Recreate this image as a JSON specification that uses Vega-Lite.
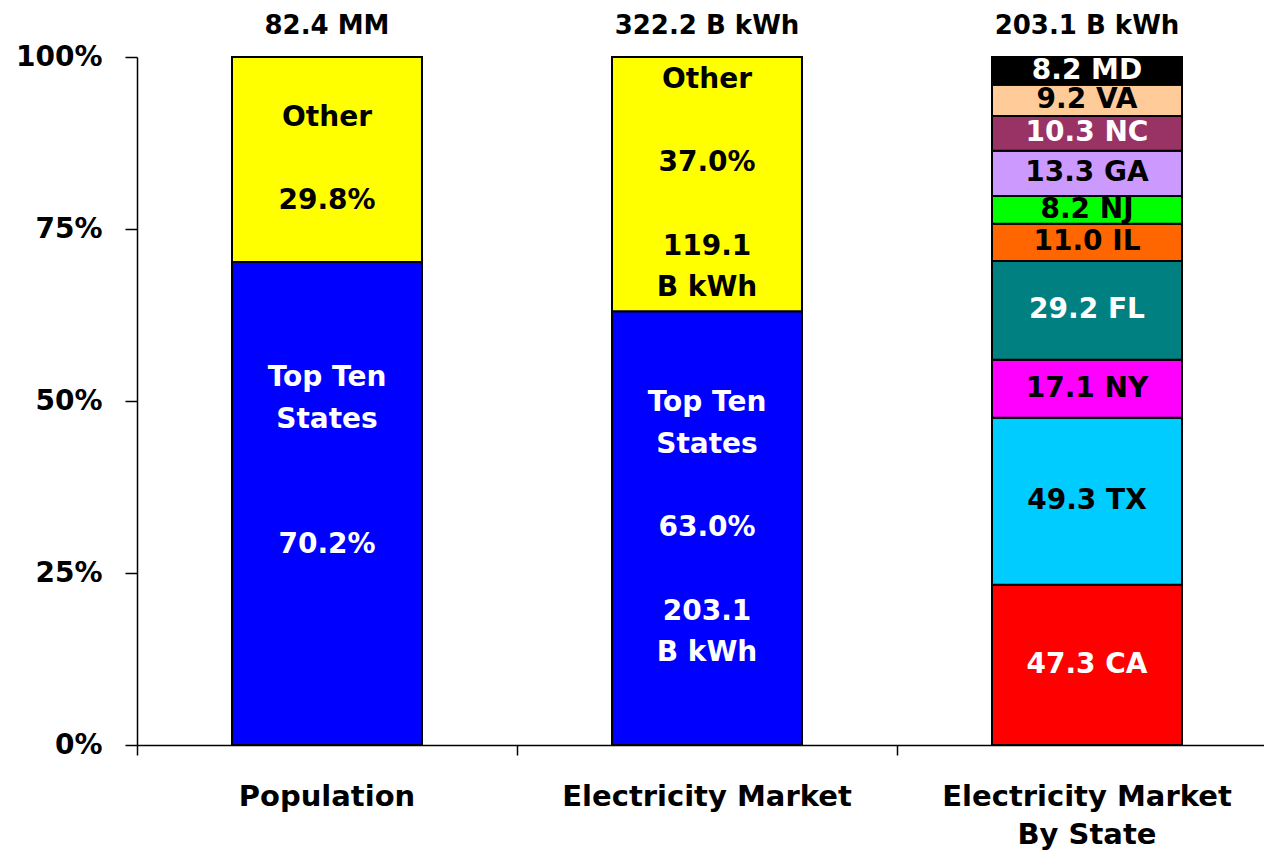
{
  "$schema": "https://vega.github.io/schema/vega-lite/v6.json",
  "width": 1127,
  "height": 688,
  "autosize": {"type": "none"},
  "padding": {"left": 137, "top": 57, "right": 0, "bottom": 108},
  "background": "white",
  "config": {
    "view": {"stroke": null},
    "font": "DejaVu Sans",
    "axis": {
      "domainColor": "black",
      "tickColor": "black",
      "labelColor": "black",
      "labelFont": "DejaVu Sans",
      "labelFontWeight": "bold",
      "domainWidth": 1.5,
      "tickWidth": 1.5,
      "grid": false
    }
  },
  "datasets": {
    "segments": [
      {"group": "Population", "segment": "Top Ten States", "order": 1, "value": 70.2, "label": ["Top Ten", "States", "\u2800", "\u2800", "70.2%", "\u2800", "\u2800"]},
      {"group": "Population", "segment": "Other", "order": 2, "value": 29.8, "label": ["Other", "\u2800", "29.8%"]},
      {"group": "Electricity Market", "segment": "Top Ten States", "order": 1, "value": 203.1, "label": ["Top Ten", "States", "\u2800", "63.0%", "\u2800", "203.1", "B kWh"]},
      {"group": "Electricity Market", "segment": "Other", "order": 2, "value": 119.1, "label": ["Other", "\u2800", "37.0%", "\u2800", "119.1", "B kWh"]},
      {"group": "Electricity Market By State", "segment": "CA", "order": 1, "value": 47.3, "label": ["47.3 CA"]},
      {"group": "Electricity Market By State", "segment": "TX", "order": 2, "value": 49.3, "label": ["49.3 TX"]},
      {"group": "Electricity Market By State", "segment": "NY", "order": 3, "value": 17.1, "label": ["17.1 NY"]},
      {"group": "Electricity Market By State", "segment": "FL", "order": 4, "value": 29.2, "label": ["29.2 FL"]},
      {"group": "Electricity Market By State", "segment": "IL", "order": 5, "value": 11.0, "label": ["11.0 IL"]},
      {"group": "Electricity Market By State", "segment": "NJ", "order": 6, "value": 8.2, "label": ["8.2 NJ"]},
      {"group": "Electricity Market By State", "segment": "GA", "order": 7, "value": 13.3, "label": ["13.3 GA"]},
      {"group": "Electricity Market By State", "segment": "NC", "order": 8, "value": 10.3, "label": ["10.3 NC"]},
      {"group": "Electricity Market By State", "segment": "VA", "order": 9, "value": 9.2, "label": ["9.2 VA"]},
      {"group": "Electricity Market By State", "segment": "MD", "order": 10, "value": 8.2, "label": ["8.2 MD"]}
    ],
    "totals": [
      {"group": "Population", "total": "82.4 MM"},
      {"group": "Electricity Market", "total": "322.2 B kWh"},
      {"group": "Electricity Market By State", "total": "203.1 B kWh"}
    ]
  },
  "encoding": {
    "x": {
      "field": "group",
      "type": "nominal",
      "sort": ["Population", "Electricity Market", "Electricity Market By State"],
      "scale": {"range": [0, 1140], "paddingInner": 0.5, "paddingOuter": 0.25},
      "axis": {
        "title": null,
        "labelAngle": 0,
        "tickSize": 10,
        "bandPosition": -0.5,
        "labelLimit": 500,
        "labelFontSize": 29,
        "labelPadding": 27,
        "labelLineHeight": 38,
        "labelBaseline": "top",
        "labelExpr": "datum.value == 'Electricity Market By State' ? ['Electricity Market', 'By State'] : datum.value"
      }
    }
  },
  "layer": [
    {
      "data": {"name": "segments"},
      "transform": [
        {"stack": "value", "groupby": ["group"], "sort": [{"field": "order", "order": "ascending"}], "offset": "normalize", "as": ["y0", "y1"]},
        {"calculate": "(datum.y0 + datum.y1) / 2 + (length(datum.label) - 1) / 2 * 41.7 / 688", "as": "ytext"}
      ],
      "layer": [
        {
          "mark": {"type": "bar", "stroke": "black", "strokeWidth": 2},
          "encoding": {
            "y": {
              "field": "y0",
              "type": "quantitative",
              "scale": {"domain": [0, 1], "nice": false},
              "axis": {
                "title": null,
                "values": [0, 0.25, 0.5, 0.75, 1],
                "format": ".0%",
                "tickSize": 12,
                "labelPadding": 23,
                "labelFontSize": 28
              }
            },
            "y2": {"field": "y1"},
            "color": {
              "field": "segment",
              "type": "nominal",
              "legend": null,
              "scale": {
                "domain": ["Top Ten States", "Other", "CA", "TX", "NY", "FL", "IL", "NJ", "GA", "NC", "VA", "MD"],
                "range": ["#0000FF", "#FFFF00", "#FF0000", "#00CCFF", "#FF00FF", "#008080", "#FF6600", "#00FF00", "#CC99FF", "#993366", "#FFCC99", "#000000"]
              }
            }
          }
        },
        {
          "mark": {"type": "text", "font": "DejaVu Sans", "fontWeight": "bold", "fontSize": 28, "baseline": "middle", "align": "center", "lineHeight": 41.7},
          "encoding": {
            "y": {"field": "ytext", "type": "quantitative"},
            "text": {"field": "label"},
            "color": {
              "field": "segment",
              "type": "nominal",
              "legend": null,
              "scale": {
                "domain": ["Top Ten States", "Other", "CA", "TX", "NY", "FL", "IL", "NJ", "GA", "NC", "VA", "MD"],
                "range": ["#FFFFFF", "#000000", "#FFFFFF", "#000000", "#000000", "#FFFFFF", "#000000", "#000000", "#000000", "#FFFFFF", "#000000", "#FFFFFF"]
              }
            }
          }
        }
      ],
      "resolve": {"scale": {"color": "independent"}}
    },
    {
      "data": {"name": "totals"},
      "mark": {"type": "text", "font": "DejaVu Sans", "fontWeight": "bold", "fontSize": 26, "baseline": "middle", "align": "center", "dy": -31, "color": "black"},
      "encoding": {
        "y": {"datum": 1, "type": "quantitative"},
        "text": {"field": "total"}
      }
    }
  ]
}
